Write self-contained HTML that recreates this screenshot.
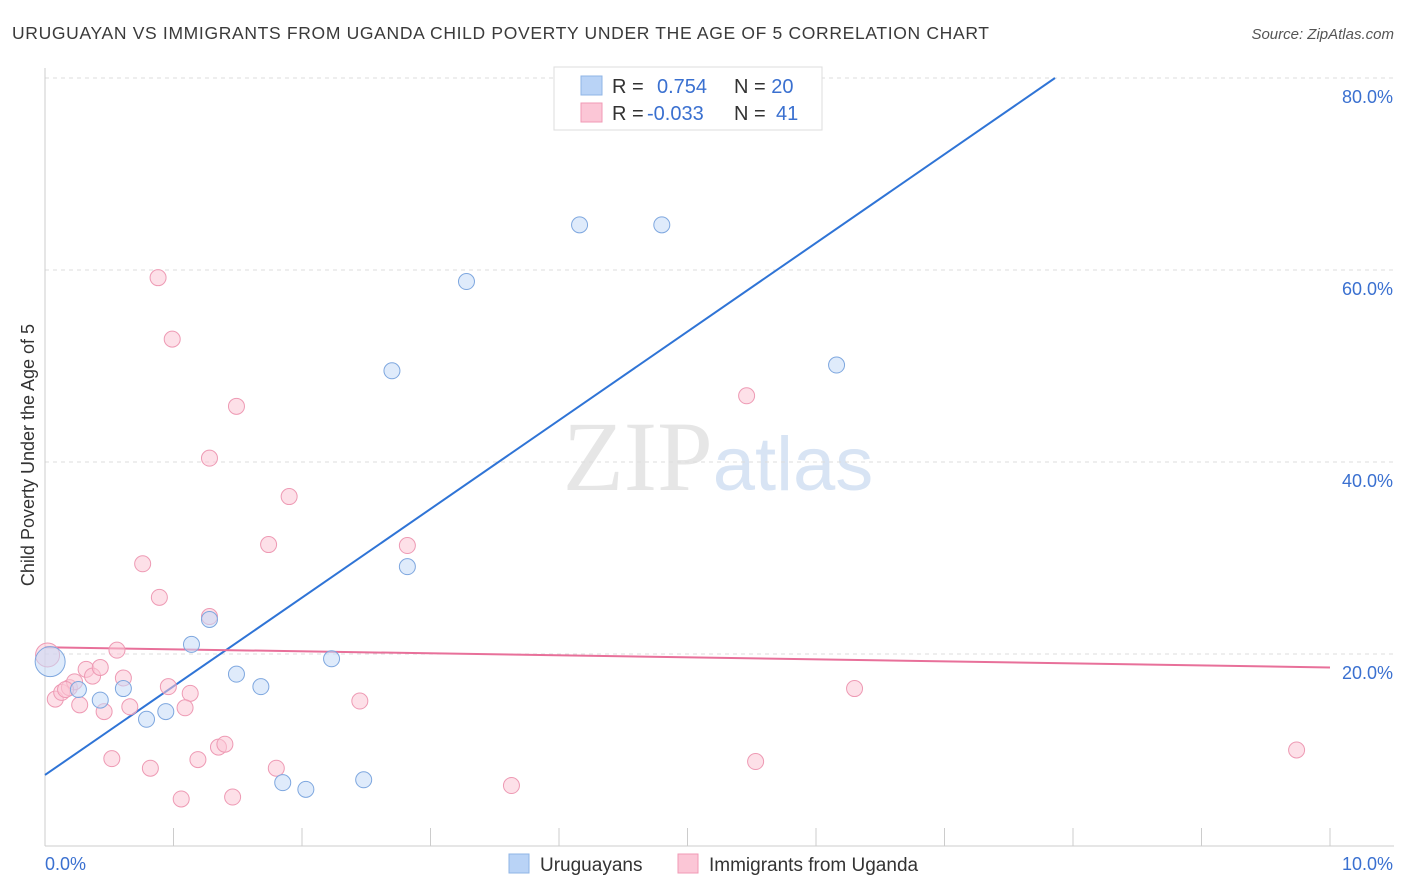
<!DOCTYPE html>
<html><head><meta charset="utf-8"><style>
body{margin:0;background:#fff;font-family:"Liberation Sans",sans-serif}
svg{display:block}
</style></head><body>
<svg id="chart" width="1406" height="892" xmlns="http://www.w3.org/2000/svg" font-family="Liberation Sans, sans-serif">
<text x="12" y="39" font-size="17.5" fill="#3a3a3a" textLength="977" lengthAdjust="spacing">URUGUAYAN VS IMMIGRANTS FROM UGANDA CHILD POVERTY UNDER THE AGE OF 5 CORRELATION CHART</text>
<text x="1394" y="39" font-size="15" fill="#555" font-style="italic" text-anchor="end">Source: ZipAtlas.com</text>
<text x="718" y="490" font-size="100" text-anchor="middle" fill="#e6e6e6" font-family="Liberation Serif, serif">ZIP<tspan fill="#d8e4f4" font-family="Liberation Sans, sans-serif" font-size="76">atlas</tspan></text>
<text transform="translate(34,455) rotate(-90)" font-size="18" fill="#333" text-anchor="middle">Child Poverty Under the Age of 5</text>
<g id="grid"></g><g id="axes"></g><g id="lines"></g><g id="points"></g>
<g>
<rect x="554" y="67" width="268" height="63" fill="#fff" stroke="#ddd"/>
<rect x="581" y="76" width="21" height="19" fill="#b9d3f6" stroke="#8fb4e6"/>
<rect x="581" y="103" width="21" height="19" fill="#fbc6d6" stroke="#f09ab5"/>
<text x="612" y="93" font-size="20" fill="#333">R = <tspan fill="#3a70d0" x="657">0.754</tspan><tspan fill="#333" x="734">N = </tspan><tspan fill="#3a70d0">20</tspan></text>
<text x="612" y="120" font-size="20" fill="#333">R = <tspan fill="#3a70d0" x="647">-0.033</tspan><tspan fill="#333" x="734">N = </tspan><tspan fill="#3a70d0" x="776">41</tspan></text>
</g>
<g>
<rect x="509" y="854" width="20" height="19" fill="#b9d3f6" stroke="#8fb4e6"/>
<text x="540" y="871" font-size="19" fill="#333">Uruguayans</text>
<rect x="678" y="854" width="20" height="19" fill="#fbc6d6" stroke="#f09ab5"/>
<text x="709" y="871" font-size="19" fill="#333">Immigrants from Uganda</text>
</g>
</svg>
<script>
const yTicks=[20,40,60,80];
const yTickLabels=["20.0%","40.0%","60.0%","80.0%"];
const xTicks=[0,1,2,3,4,5,6,7,8,9,10];
const uruX=[0.04,0.26,0.43,0.61,0.79,0.94,1.14,1.28,1.49,1.68,1.85,2.03,2.23,2.48,2.70,2.82,3.28,4.16,4.80,6.16];
const uruY=[19.2,16.3,15.2,16.4,13.2,14.0,21.0,23.6,17.9,16.6,6.6,5.9,19.5,6.9,49.5,29.1,58.8,64.7,64.7,50.1];
const ugaX=[0.02,0.08,0.13,0.19,0.23,0.27,0.32,0.37,0.43,0.46,0.52,0.56,0.61,0.66,0.76,0.82,0.88,0.89,0.99,0.96,1.06,1.13,1.19,1.09,1.28,1.28,1.35,1.40,1.46,1.49,1.74,1.80,1.90,2.45,2.82,3.63,5.46,5.53,6.30,9.74,0.16];
const ugaY=[19.9,15.3,16.0,16.5,17.1,14.7,18.4,17.7,18.6,14.0,9.1,20.4,17.5,14.5,29.4,8.1,59.2,25.9,52.8,16.6,4.9,15.9,9.0,14.4,40.4,23.9,10.3,10.6,5.1,45.8,31.4,8.1,36.4,15.1,31.3,6.3,46.9,8.8,16.4,10.0,16.3];
const uruLine=[7.4,80.0]; const uruLineX=[0,7.86];
const ugaLine=[20.7,18.6]; const ugaLineX=[0,10];
const NS="http://www.w3.org/2000/svg";
const X=v=>45+v*128.5, Y=v=>846-v*9.6;
function mk(t,a,p){const e=document.createElementNS(NS,t);for(const k in a)e.setAttribute(k,a[k]);document.getElementById(p).appendChild(e);return e;}
yTicks.forEach((t,i)=>{
 const g=mk('line',{x1:45,x2:1394,y1:Y(t),y2:Y(t),stroke:'#ddd','stroke-dasharray':'4,4'},'grid');
 
 
 const l=mk('text',{x:1393,y:Y(t)+25,'font-size':18,fill:'#3a70d0','text-anchor':'end'},'axes');
 
 
 l.textContent=yTickLabels[i];
});
const ax=mk('line',{x1:45,x2:45,y1:68,y2:846,stroke:'#ccc'},'axes');


const bx=mk('line',{x1:45,x2:1394,y1:846,y2:846,stroke:'#ccc'},'axes');


xTicks.forEach(t=>{const e=mk('line',{x1:X(t),x2:X(t),y1:828,y2:846,stroke:'#ccc'},'axes');
 
 });
[["0.0%",45,'start'],["10.0%",1393,'end']].forEach(([s,x,a])=>{const e=mk('text',{x:x,y:870,'font-size':18,fill:'#3a70d0','text-anchor':a},'axes');
 
 
 e.textContent=s;});
function pts(xs,ys,fill,stroke,name,big){xs.forEach((x,i)=>{const c=mk('circle',{cx:X(x),cy:Y(ys[i]),r:i==0?big:8,fill:fill,'fill-opacity':0.55,stroke:stroke,'stroke-width':1},'points');
 
 });}
pts(ugaX,ugaY,'#fbc6d6','#ee9ab4','uganda-point',12);
pts(uruX,uruY,'#c5dbf7','#7ea7df','uruguayan-point',15);
const l1=mk('line',{x1:X(uruLineX[0]),y1:Y(uruLine[0]),x2:X(uruLineX[1]),y2:Y(uruLine[1]),stroke:'#2f74d6','stroke-width':2},'lines');


const l2=mk('line',{x1:X(ugaLineX[0]),y1:Y(ugaLine[0]),x2:X(ugaLineX[1]),y2:Y(ugaLine[1]),stroke:'#e8709a','stroke-width':2},'lines');


</script>
</body></html>
